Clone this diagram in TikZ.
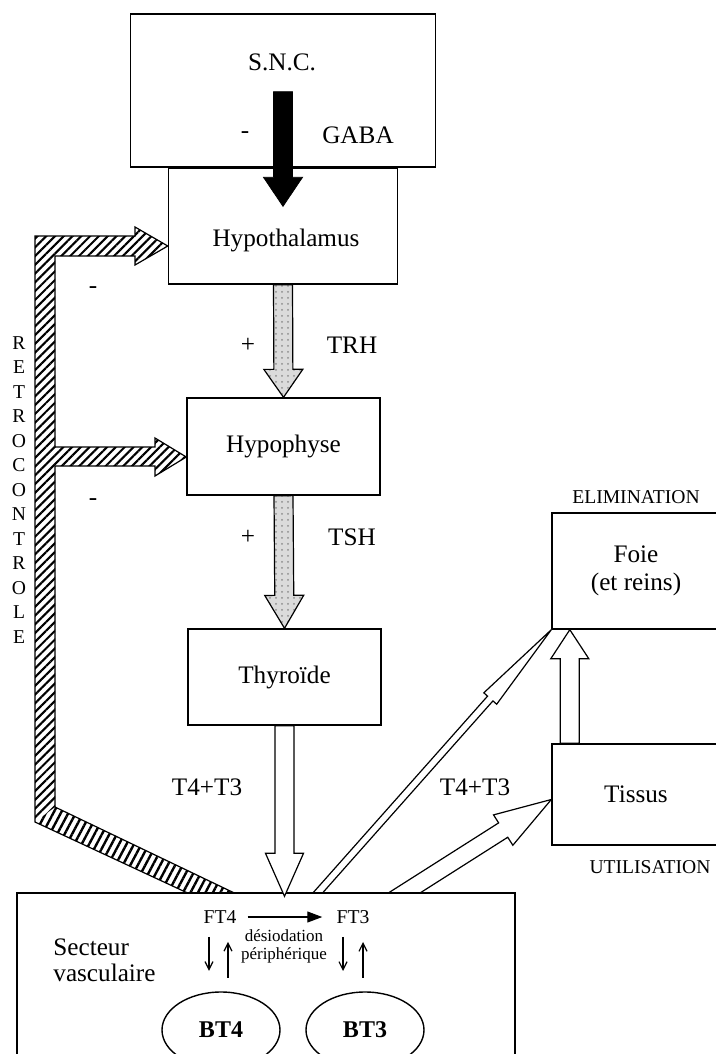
\documentclass[tikz,border=0pt]{standalone}
\usepackage{fontspec}
\setmainfont{Liberation Serif}
\usepackage{tikz}
\usetikzlibrary{positioning,arrows.meta,calc,shapes.geometric,patterns,patterns.meta}

% [style]{from}{to}{shaft half width}{head half width}{head length}
\newcommand{\fatarrow}[6][]{%
  \coordinate (fa-s) at (#2);
  \coordinate (fa-t) at (#3);
  \coordinate (fa-h) at ($(fa-t)!#6!(fa-s)$);
  \path[#1] ($(fa-s)!#4!90:(fa-t)$) -- ($(fa-h)!#4!90:(fa-t)$) -- ($(fa-h)!#5!90:(fa-t)$)
    -- (fa-t) -- ($(fa-h)!#5!-90:(fa-t)$) -- ($(fa-h)!#4!-90:(fa-t)$) -- ($(fa-s)!#4!-90:(fa-t)$) -- cycle;
}

\begin{document}
\begin{tikzpicture}[
  x=0.5pt, y=-0.5pt,
  box/.style={draw, line width=0.7pt, inner sep=0pt},
  lbl/.style={font=\fontsize{12.6}{14}\selectfont, inner sep=0pt},
  lblsmall/.style={font=\fontsize{9.8}{12}\selectfont, inner sep=0pt},
  lbltiny/.style={font=\fontsize{8.5}{9}\selectfont, inner sep=0pt, align=center},
  hollow/.style={draw, line width=0.6pt, fill=white},
  stipple/.style={draw, line width=0.6pt, preaction={fill=gray!28}, pattern=dots, pattern color=gray!90},
  blackarrow/.style={draw, fill=black},
  hatch/.style={pattern={Lines[angle=45,distance=3.1pt,line width=1.05pt]}},
  hatchdiag/.style={pattern={Lines[angle=62,distance=3.3pt,line width=1.2pt]}},
  thinarr/.style={line width=0.6pt, -{Straight Barb[length=4pt,width=4pt]}}
]

\path[use as bounding box] (0,0) rectangle (716,1054);
\clip (0,0) rectangle (716,1054);

% boxes
\node[box, minimum width=152.5pt, minimum height=76.5pt] (snc) at (283,90.5) {};

\node[box, minimum width=114.5pt, minimum height=58pt] (hypoth) at (283,226) {};

\node[box, lbl, minimum width=96.5pt, minimum height=48.5pt] (hypoph) at (283.5,446.5) {Hypophyse};

\node[box, lbl, minimum width=96.5pt, minimum height=48pt] (thyr) at (284.5,677) {Thyroïde};

\node[box, lbl, align=center, minimum width=84pt, minimum height=58pt] (foie) at (636,571) {Foie\\(et reins)};

\node[box, lbl, minimum width=84pt, minimum height=50.5pt] (tissus) at (636,794.5) {\raisebox{-5pt}{Tissus}};

\node[box, minimum width=249pt, minimum height=88pt] (vasc) at (266,981) {};

% texts
\node[lbl] (snclbl) at (282,62) {S.N.C.};
\node[lbl] (minusgaba) at (245,135) {-};
\node[lbl] (gaba) at (358,135) {GABA};
\node[lbl] (hypothlbl) at (286,240) {Hypothalamus};

\node[lbl] (plustrh) at (248,345) {+};
\node[lbl] (trh) at (352,345) {TRH};
\node[lbl] (plustsh) at (248,537) {+};
\node[lbl] (tsh) at (352,537) {TSH};

\node[lbl] (minusfb1) at (93,290) {-};
\node[lbl] (minusfb2) at (93,502) {-};

\node[lbl] (t4t3a) at (207,787) {T4+T3};
\node[lbl] (t4t3b) at (475,787) {T4+T3};

\node[lblsmall] (elim) at (636,497) {ELIMINATION};
\node[lblsmall] (util) at (650,867) {UTILISATION};

\foreach \ch [count=\i] in {R,E,T,R,O,C,O,N,T,R,O,L,E}
  \node[lblsmall] (retro\i) at (19,{343+24.5*(\i-1)}) {\ch};

\node[lbl, align=left, anchor=west, font=\fontsize{12.6}{13}\selectfont] (secteur) at (53,960) {Secteur\\vasculaire};

\node[lblsmall] (ft4) at (220,917) {FT4};
\node[lblsmall] (ft3) at (353,917) {FT3};
\node[lbltiny] (desiod) at (284,946) {désiodation\\périphérique};

\node[draw, ellipse, line width=0.7pt, minimum width=59pt, minimum height=38pt,
  font=\fontsize{12}{14}\selectfont\bfseries] (bt4) at (221,1030) {\raisebox{-4pt}{BT4}};
\node[draw, ellipse, line width=0.7pt, minimum width=59pt, minimum height=38pt,
  font=\fontsize{12}{14}\selectfont\bfseries] (bt3) at (365,1030) {\raisebox{-4pt}{BT3}};

% hormone arrows
\fatarrow[blackarrow]{$(snc.south)+(0,-76)$}{$(hypoth.north)+(0,39)$}{4.75pt}{9.75pt}{14.5pt}
\fatarrow[stipple]{hypoth.south}{hypoph.north}{4.75pt}{9.75pt}{14pt}
\fatarrow[stipple]{hypoph.south}{thyr.north}{4.75pt}{9.75pt}{16.5pt}
\fatarrow[hollow]{$(tissus.north west)+(18.5,0)$}{$(foie.south west)+(18.5,0)$}{4.75pt}{9.5pt}{14.5pt}

% arrows leaving the vascular sector, cut by its top edge
\begin{scope}
  \clip (0,0) rectangle ($(vasc.north)+(460,0)$);
  \fatarrow[hollow]{$(vasc.north)+(39,15)$}{foie.south west}{1.8pt}{4.3pt}{46pt}
  \fatarrow[hollow]{$(vasc.north)+(118,13.5)$}{$(tissus.west)+(0,5)$}{4.25pt}{9pt}{28.5pt}

  % retrocontrole
  \coordinate (fb1) at ($(hypoth.west)+(0,20)$);
  \coordinate (fb2) at ($(hypoph.west)+(0,10.5)$);
  \coordinate (fbup) at ($(vasc.north)+(-6,13)$);
  \coordinate (fblow) at ($(vasc.north)+(-52,13)$);

  \path[hatch] (35,236) -- (135,236) -- (135,227) -- (fb1) -- (135,265) -- (135,256) -- (55,256)
    -- (55,447) -- (155,447) -- (155,438) -- (fb2) -- (155,476) -- (155,466) -- (55,466)
    -- (55,807) -- (35,822) -- cycle;
  \path[hatchdiag] (55,807) -- (fbup) -- (fblow) -- (35,822) -- cycle;
  \draw[line width=0.6pt] (35,236) -- (135,236) -- (135,227) -- (fb1) -- (135,265) -- (135,256) -- (55,256)
    -- (55,447) -- (155,447) -- (155,438) -- (fb2) -- (155,476) -- (155,466) -- (55,466)
    -- (55,807) -- (fbup) -- (fblow) -- (35,822) -- cycle;
\end{scope}
\draw[line width=0.7pt] (vasc.north west) -- (vasc.north east);

\fatarrow[hollow]{thyr.south}{$(thyr.south |- vasc.north)+(0,4)$}{4.75pt}{9.5pt}{21.5pt}

% vascular sector
\draw[line width=0.6pt, -{Triangle[length=7.5pt,width=5.5pt]}, shorten <=5.5pt, shorten >=7pt] (ft4) -- (ft3);
\draw[thinarr] ($(ft4.south)+(-11,13)$) -- ($(ft4.south)+(-11,47)$);
\draw[thinarr] ($(ft4.south)+(8,54)$) -- ($(ft4.south)+(8,18)$);
\draw[thinarr] ($(ft3.south)+(-10,13)$) -- ($(ft3.south)+(-10,47)$);
\draw[thinarr] ($(ft3.south)+(10,54)$) -- ($(ft3.south)+(10,18)$);

\end{tikzpicture}
\end{document}
